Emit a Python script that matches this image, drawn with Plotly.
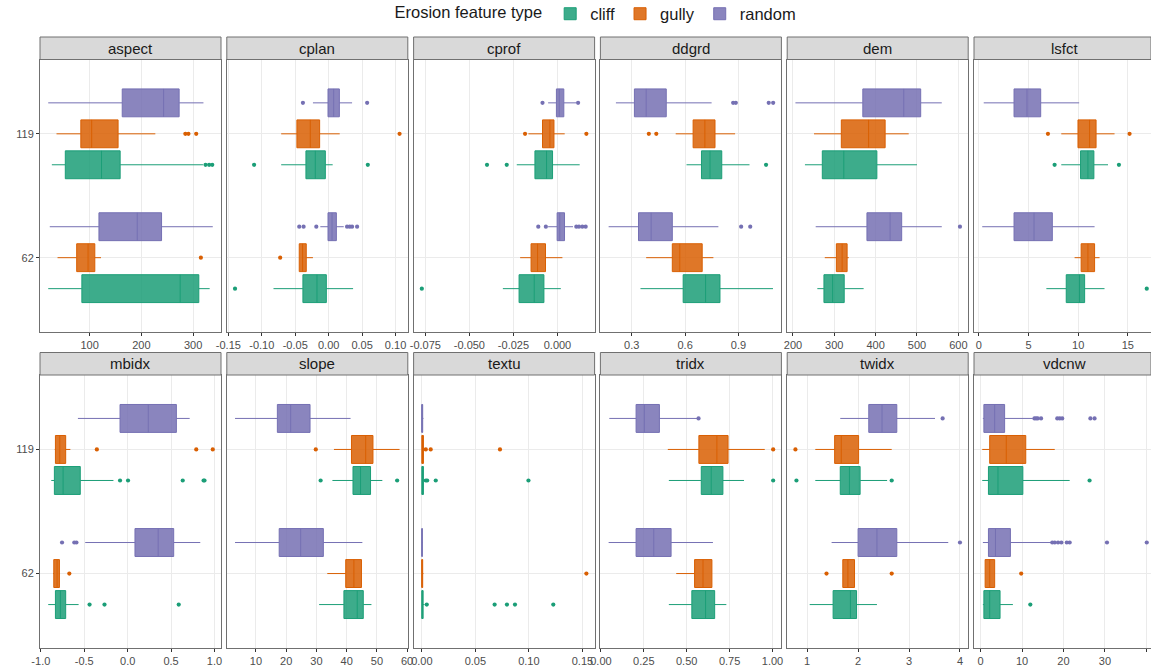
import plotly.graph_objects as go

# ---------------- data ----------------
variables = ["aspect", "cplan", "cprof", "ddgrd", "dem", "lsfct",
             "mbidx", "slope", "textu", "tridx", "twidx", "vdcnw"]
categories = ["62", "119"]
types = ["cliff", "gully", "random"]

# five-number summaries [lower whisker, q1, median, q3, upper whisker] for [62, 119]
aspect = {"cliff": [[20, 85, 275, 311, 332], [27, 53, 123, 159, 319]],
          "gully": [[38, 75, 97, 110, 122], [36, 83, 104, 155, 227]],
          "random": [[23, 118, 192, 239, 338], [20, 163, 243, 273, 320]]}
aspect_out = {"cliff": [[], [324, 331, 337]], "gully": [[315], [285, 291, 306]], "random": [[], []]}

cplan = {"cliff": [[-0.0825, -0.0385, -0.0175, -0.0035, 0.0365], [-0.071, -0.034, -0.02, -0.005, 0.006]],
         "gully": [[-0.044, -0.044, -0.039, -0.0335, -0.0235], [-0.071, -0.0475, -0.0275, -0.0135, 0.0165]],
         "random": [[-0.0125, -0.001, 0.005, 0.0115, 0.0225], [-0.0235, -0.001, 0.0075, 0.016, 0.035]]}
cplan_out = {"cliff": [[-0.14], [-0.1115, 0.0585]], "gully": [[-0.0725], [0.106]],
             "random": [[-0.044, -0.0375, -0.0185, 0.0275, 0.0315, 0.035, 0.0425], [-0.0385, 0.0575]]}

cprof = {"cliff": [[-0.031, -0.0218, -0.0132, -0.0077, 0.0019], [-0.0231, -0.0128, -0.0062, -0.0028, 0.0126]],
         "gully": [[-0.0212, -0.015, -0.0113, -0.0068, 0.0028], [-0.0165, -0.0085, -0.0043, -0.002, 0.0041]],
         "random": [[-0.0053, -0.0002, 0.0013, 0.004, 0.0088], [-0.0053, -0.0006, 0.001, 0.0036, 0.0107]]}
cprof_out = {"cliff": [[-0.077], [-0.040, -0.0288]], "gully": [[], [-0.0184, 0.0164]],
             "random": [[-0.0109, -0.0066, 0.0107, 0.0122, 0.0141, 0.016], [-0.0085, 0.0117]]}

ddgrd = {"cliff": [[0.349, 0.589, 0.715, 0.796, 1.094], [0.608, 0.692, 0.740, 0.806, 0.962]],
         "gully": [[0.381, 0.528, 0.570, 0.696, 0.759], [0.547, 0.645, 0.711, 0.768, 0.881]],
         "random": [[0.17, 0.338, 0.409, 0.528, 0.787], [0.211, 0.315, 0.381, 0.494, 0.749]]}
ddgrd_out = {"cliff": [[], [1.055]], "gully": [[], [0.396, 0.438]],
             "random": [[0.915, 0.966], [0.87, 0.885, 1.07, 1.095]]}

dem = {"cliff": [[259, 275, 296, 324, 371], [229, 271, 323, 403, 500]],
       "gully": [[277, 305, 319, 331, 335], [251, 317, 383, 423, 480]],
       "random": [[255, 379, 435, 463, 560], [206, 369, 468, 509, 560]]}
dem_out = {"cliff": [[], []], "gully": [[], []], "random": [[604], []]}

lsfct = {"cliff": [[6.8, 8.8, 10.14, 10.65, 12.65], [8.3, 10.24, 10.98, 11.58, 13.0]],
         "gully": [[9.64, 10.3, 10.98, 11.65, 12.15], [8.3, 9.98, 11.15, 11.8, 13.66]],
         "random": [[0.35, 3.55, 5.56, 7.4, 11.65], [0.5, 3.55, 4.85, 6.23, 10.1]]}
lsfct_out = {"cliff": [[16.9], [7.63, 14.1]], "gully": [[], [6.96, 15.17]], "random": [[], []]}

mbidx = {"cliff": [[-0.915, -0.832, -0.775, -0.714, -0.565], [-0.88, -0.844, -0.744, -0.546, -0.164]],
         "gully": [[-0.86, -0.851, -0.813, -0.786, -0.78], [-0.84, -0.832, -0.782, -0.714, -0.66]],
         "random": [[-0.489, 0.084, 0.351, 0.53, 0.836], [-0.573, -0.088, 0.237, 0.561, 0.714]]}
mbidx_out = {"cliff": [[-0.439, -0.267, 0.588], [-0.088, 0.004, 0.634, 0.874, 0.885]],
             "gully": [[-0.672], [-0.355, 0.79, 0.98]], "random": [[-0.756, -0.615, -0.59], []]}

slope = {"cliff": [[30.9, 39.1, 43.5, 45.5, 48.2], [35.3, 42.1, 44.6, 47.9, 51.8]],
         "gully": [[33.6, 39.7, 42.4, 44.9, 44.9], [35.8, 41.6, 46.3, 48.7, 57.5]],
         "random": [[3.1, 17.7, 24.8, 32.3, 45.2], [3.1, 17.1, 21.5, 27.9, 41.3]]}
slope_out = {"cliff": [[], [31.4, 56.7]], "gully": [[], [29.8]], "random": [[], []]}

textu = {"cliff": [[0, 0, 0.0003, 0.0012, 0.0025], [0, 0, 0.0003, 0.0015, 0.003]],
         "gully": [[0, 0, 0, 0.0008, 0.0015], [0, 0, 0.0003, 0.0015, 0.003]],
         "random": [[0, 0, 0, 0.0005, 0.001], [0, 0, 0, 0.0008, 0.0015]]}
textu_out = {"cliff": [[0.0046, 0.068, 0.0795, 0.087, 0.1228], [0.0037, 0.005, 0.013, 0.0996]],
             "gully": [[0.1537], [0.0037, 0.0083, 0.073]], "random": [[], []]}

tridx = {"cliff": [[0.396, 0.530, 0.610, 0.663, 0.731], [0.396, 0.585, 0.643, 0.711, 0.834]],
         "gully": [[0.439, 0.546, 0.595, 0.647, 0.647], [0.39, 0.571, 0.676, 0.741, 0.955]],
         "random": [[0.045, 0.205, 0.308, 0.409, 0.653], [0.049, 0.205, 0.253, 0.341, 0.565]]}
tridx_out = {"cliff": [[], [1.004]], "gully": [[], [1.004]], "random": [[], [0.569]]}

twidx = {"cliff": [[1.05, 1.51, 1.85, 1.97, 2.37], [1.16, 1.65, 1.83, 2.04, 2.57]],
         "gully": [[1.70, 1.70, 1.80, 1.93, 1.93], [1.16, 1.54, 1.67, 2.01, 2.66]],
         "random": [[1.48, 2.0, 2.37, 2.76, 3.77], [1.65, 2.21, 2.47, 2.76, 3.51]]}
twidx_out = {"cliff": [[], [0.79, 2.66]], "gully": [[1.38, 2.66], [0.77]], "random": [[4.0], [3.66]]}

vdcnw = {"cliff": [[0.56, 0.8, 2.2, 4.7, 7.8], [0.4, 1.9, 4.2, 10.2, 21.5]],
         "gully": [[1.1, 1.1, 2.2, 3.4, 3.4], [0.4, 2.2, 6.2, 10.9, 17.9]],
         "random": [[0.56, 1.9, 3.6, 7.2, 17.1], [0.56, 0.8, 3.4, 5.8, 12.6]]}
vdcnw_out = {"cliff": [[12.0], [26.3]], "gully": [[9.8], []],
             "random": [[17.3, 17.9, 18.7, 19.5, 20.8, 21.5, 30.5, 40.1],
                        [13.0, 13.4, 13.8, 14.6, 18.5, 19.1, 19.7, 26.5, 27.5]]}

# tick values / labels per panel
tick_vals = {
    "aspect": [100, 200, 300],
    "cplan": [-0.15, -0.10, -0.05, 0.0, 0.05, 0.10],
    "cprof": [-0.075, -0.05, -0.025, 0.0],
    "ddgrd": [0.3, 0.6, 0.9],
    "dem": [200, 300, 400, 500, 600],
    "lsfct": [0, 5, 10, 15],
    "mbidx": [-1.0, -0.5, 0.0, 0.5, 1.0],
    "slope": [10, 20, 30, 40, 50, 60],
    "textu": [0.0, 0.05, 0.10, 0.15],
    "tridx": [0.0, 0.25, 0.5, 0.75, 1.0],
    "twidx": [1, 2, 3, 4],
    "vdcnw": [0, 10, 20, 30, 40],
}
tick_text = {
    "aspect": ["100", "200", "300"],
    "cplan": ["-0.15", "-0.10", "-0.05", "0.00", "0.05", "0.10"],
    "cprof": ["-0.075", "-0.050", "-0.025", "0.000"],
    "ddgrd": ["0.3", "0.6", "0.9"],
    "dem": ["200", "300", "400", "500", "600"],
    "lsfct": ["0", "5", "10", "15"],
    "mbidx": ["-1.0", "-0.5", "0.0", "0.5", "1.0"],
    "slope": ["10", "20", "30", "40", "50", "60"],
    "textu": ["0.00", "0.05", "0.10", "0.15"],
    "tridx": ["0.00", "0.25", "0.50", "0.75", "1.00"],
    "twidx": ["1", "2", "3", "4"],
    "vdcnw": ["0", "10", "20", "30", "40"],
}

stats = {"aspect": aspect, "cplan": cplan, "cprof": cprof, "ddgrd": ddgrd, "dem": dem, "lsfct": lsfct,
         "mbidx": mbidx, "slope": slope, "textu": textu, "tridx": tridx, "twidx": twidx, "vdcnw": vdcnw}
outliers = {"aspect": aspect_out, "cplan": cplan_out, "cprof": cprof_out, "ddgrd": ddgrd_out,
            "dem": dem_out, "lsfct": lsfct_out, "mbidx": mbidx_out, "slope": slope_out,
            "textu": textu_out, "tridx": tridx_out, "twidx": twidx_out, "vdcnw": vdcnw_out}

# ---------------- style ----------------
line_colors = {"cliff": "#1B9E77", "gully": "#D95F02", "random": "#7570B3"}
fill_colors = {"cliff": "rgba(27,158,119,0.85)", "gully": "rgba(217,95,2,0.85)", "random": "rgba(117,112,179,0.85)"}
FONT = "Liberation Sans, Arial, sans-serif"
W, H = 1151, 669
dodge = 0.25
box_w = 0.225
panel_w = 181.0
col_step = 186.8
col0 = 40.0
rows_px = [(59.5, 332.0), (375.0, 648.0)]
strip_h = 22.5
border = "#707070"

fig = go.Figure()
layout = {}
shapes = []
annotations = []

for vi, var in enumerate(variables):
    r, c = divmod(vi, 6)
    n = vi + 1
    xa = "x" if n == 1 else f"x{n}"
    ya = "y" if n == 1 else f"y{n}"

    # data-driven x range (ggplot-style 5% expansion)
    vals = []
    for t in types:
        for k in range(len(categories)):
            vals += [stats[var][t][k][0], stats[var][t][k][4]] + outliers[var][t][k]
    lo, hi = min(vals), max(vals)
    pad = 0.05 * (hi - lo)
    rlo, rhi = lo - pad, hi + pad

    left = col0 + c * col_step
    right_full = left + panel_w
    right = min(right_full, W)
    rhi_vis = rlo + (rhi - rlo) * (right - left) / (right_full - left)
    top, bot = rows_px[r]

    for ti, t in enumerate(types):
        s = stats[var][t]
        pos = [k + 1 + (ti - 1) * dodge for k in range(len(categories))]
        fig.add_trace(go.Box(
            y=pos, orientation="h",
            lowerfence=[v[0] for v in s], q1=[v[1] for v in s], median=[v[2] for v in s],
            q3=[v[3] for v in s], upperfence=[v[4] for v in s],
            width=box_w, whiskerwidth=0, fillcolor=fill_colors[t],
            line=dict(color=line_colors[t], width=1),
            name=t, legendgroup=t, showlegend=(vi == 0),
            xaxis=xa, yaxis=ya, hoverinfo="skip",
        ))
        ox, oy = [], []
        for k in range(len(categories)):
            ox += outliers[var][t][k]
            oy += [pos[k]] * len(outliers[var][t][k])
        fig.add_trace(go.Scatter(
            x=ox, y=oy, mode="markers",
            marker=dict(color=line_colors[t], size=4.2),
            showlegend=False, legendgroup=t, xaxis=xa, yaxis=ya, hoverinfo="skip",
        ))

    axis_common = dict(showline=True, mirror=True, linecolor=border, linewidth=1,
                       showgrid=True, gridcolor="#ebebeb", gridwidth=1, zeroline=False,
                       automargin=False,
                       tickfont=dict(family=FONT, size=11, color="#4d4d4d"))
    layout["xaxis" if n == 1 else f"xaxis{n}"] = dict(
        axis_common, domain=[left / W, right / W], range=[rlo, rhi_vis], anchor=ya,
        tickmode="array", tickvals=tick_vals[var], ticktext=tick_text[var],
        ticks="outside", ticklen=3, tickcolor="#333333",
    )
    layout["yaxis" if n == 1 else f"yaxis{n}"] = dict(
        axis_common, domain=[1 - bot / H, 1 - top / H], range=[0.4, 2.6], anchor=xa,
        tickmode="array", tickvals=[1, 2], ticktext=categories,
        showticklabels=(c == 0), ticks="outside" if c == 0 else "", ticklen=3, tickcolor="#333333",
    )

    # facet strip
    shapes.append(dict(type="rect", xref="paper", yref="paper",
                       x0=left / W, x1=right / W, y0=1 - top / H, y1=1 - (top - strip_h) / H,
                       fillcolor="#d9d9d9", line=dict(color=border, width=1), layer="above"))
    annotations.append(dict(text=var, xref="paper", yref="paper", x=(left + right_full) / 2 / W,
                            y=1 - (top - strip_h / 2) / H, showarrow=False, xanchor="center",
                            yanchor="middle", font=dict(family=FONT, size=15, color="#1a1a1a")))

fig.update_layout(**layout)
fig.update_layout(
    width=W, height=H, margin=dict(l=0, r=0, t=0, b=0, autoexpand=False),
    paper_bgcolor="white", plot_bgcolor="white",
    shapes=shapes, annotations=annotations,
    font=dict(family=FONT, size=14, color="#1a1a1a"),
    legend=dict(orientation="h", x=597 / W, xanchor="center", y=1 - 14 / H, yanchor="middle",
                title=dict(text="Erosion feature type", side="left", font=dict(family=FONT, size=16.5)),
                font=dict(family=FONT, size=16.5), itemwidth=30, bgcolor="rgba(0,0,0,0)"),
    showlegend=True,
)

fig.write_html("out.html", config={"displayModeBar": False},
               post_script="document.body.style.margin='0';document.body.style.overflow='hidden';")
